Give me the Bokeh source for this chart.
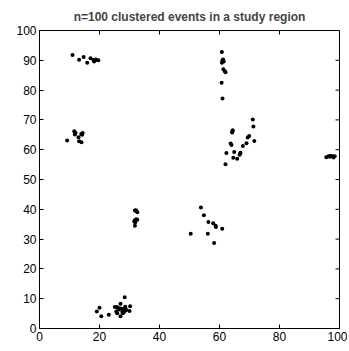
import math
from bokeh.plotting import figure
from bokeh.models import LinearAxis, Range1d, FixedTicker
from bokeh.embed import file_html
from bokeh.resources import INLINE

title_text = "n=100 clustered events in a study region"
ticks = [0, 20, 40, 60, 80, 100]
yticks = [0, 10, 20, 30, 40, 50, 60, 70, 80, 90, 100]

# cluster points (x, y)
ax_ = [11.0, 13.2, 14.7, 15.9, 17.0, 18.0, 18.2, 18.8, 19.6, 18.5]
ay_ = [91.8, 90.2, 91.1, 89.2, 90.7, 90.1, 89.6, 90.3, 90.0, 89.9]
bx_ = [9.2, 11.6, 11.8, 13.0, 13.2, 14.0, 13.9, 14.4, 12.0, 14.2]
by_ = [63.1, 66.2, 65.1, 64.2, 62.8, 62.5, 65.3, 65.6, 65.6, 65.0]
cx_ = [60.8, 61.0, 60.8, 61.4, 61.3, 61.8, 62.0, 60.7, 61.0, 61.2]
cy_ = [92.8, 90.0, 89.2, 89.6, 87.0, 86.3, 86.0, 82.5, 77.2, 90.3]
dx_ = [71.1, 71.3, 64.4, 64.2, 63.7, 64.0, 69.9, 69.4, 69.0, 67.8,
       71.6, 62.3, 64.9, 64.6, 65.9, 66.7, 67.0, 62.0, 64.3, 66.9]
dy_ = [70.1, 67.8, 66.5, 65.8, 62.1, 61.6, 64.6, 64.1, 62.2, 61.2,
       62.9, 58.9, 59.2, 57.3, 57.0, 58.3, 59.0, 55.1, 66.1, 58.7]
ex_ = [95.6, 96.3, 97.0, 97.7, 98.0, 98.4, 96.8]
ey_ = [57.5, 57.8, 58.0, 57.8, 57.4, 57.8, 57.6]
fx_ = [31.8, 32.6, 32.2, 31.6, 31.9, 31.8, 32.6, 32.1, 31.7, 32.3]
fy_ = [39.6, 39.0, 36.7, 35.9, 35.6, 34.5, 36.5, 39.7, 36.2, 39.4]
gx_ = [19.1, 20.0, 20.6, 23.1, 25.1, 25.8, 25.6, 25.9, 27.0, 27.1,
       27.0, 27.6, 27.9, 28.3, 28.6, 28.4, 29.0, 30.0, 30.2, 27.8,
       26.5, 28.1, 26.2]
gy_ = [5.7, 7.0, 4.1, 4.6, 7.2, 7.2, 5.7, 5.1, 8.3, 6.7,
       4.1, 5.6, 6.1, 5.6, 7.3, 10.5, 6.2, 5.9, 7.5, 5.1,
       6.4, 6.6, 7.0]
hx_ = [53.8, 54.8, 56.3, 57.9, 58.7, 58.8, 60.9, 50.4, 56.1, 58.2]
hy_ = [40.6, 38.0, 35.7, 35.3, 34.5, 34.1, 33.5, 31.8, 31.8, 28.7]

xs = ax_ + bx_ + cx_ + dx_ + ex_ + fx_ + gx_ + hx_
ys = ay_ + by_ + cy_ + dy_ + ey_ + fy_ + gy_ + hy_

FONT = "Liberation Sans"

p = figure(output_backend="svg", toolbar_location=None,
           width=347, height=349,
           min_border_left=39, min_border_right=8,
           min_border_top=28, min_border_bottom=21,
           x_range=Range1d(0, 100), y_range=Range1d(0, 100),
           x_axis_location=None, y_axis_location=None)
p.background_fill_color = "white"
p.border_fill_color = "white"
p.outline_line_color = "black"
p.outline_line_width = 1
p.grid.visible = False

p.title.text = title_text
p.title.align = "center"
p.title.text_font = FONT
p.title.text_font_size = "12px"
p.title.text_font_style = "bold"
p.title.offset = 0
p.title.standoff = 14

def style(axis):
    axis.major_tick_in = 4
    axis.major_tick_out = 0
    axis.minor_tick_line_color = None
    axis.axis_line_color = "black"
    axis.major_tick_line_color = "black"
    axis.major_label_text_font = FONT
    axis.major_label_text_font_size = "12px"
    axis.major_label_text_color = "black"
    axis.major_label_standoff = 3

bx = LinearAxis(ticker=FixedTicker(ticks=ticks))
style(bx)
p.add_layout(bx, "below")
lx = LinearAxis(ticker=FixedTicker(ticks=yticks))
style(lx)
p.add_layout(lx, "left")

# ticks on top and right edges (inward)
p.ray(x=ticks, y=[100] * len(ticks), length=4, length_units="screen",
      angle=-math.pi / 2, line_color="black", line_width=1)
p.ray(x=[100] * len(yticks), y=yticks, length=4, length_units="screen",
      angle=math.pi, line_color="black", line_width=1)

p.scatter(xs, ys, size=4, fill_color="black", line_color=None)

open("out.html", "w").write(file_html(p, INLINE))
